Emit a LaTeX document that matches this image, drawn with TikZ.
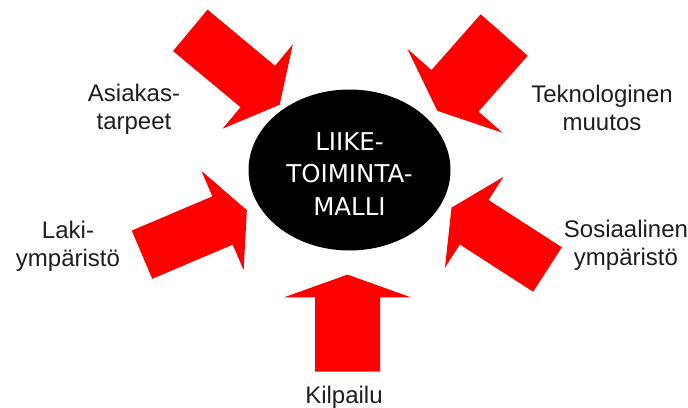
\documentclass[tikz,border=0pt]{standalone}
\usepackage{fontspec}
\setmainfont{Liberation Sans}
\newfontfamily\ellfont{DejaVu Sans}
\usetikzlibrary{shapes.geometric}
\definecolor{arrowred}{RGB}{255,0,0}
\definecolor{labelgray}{RGB}{30,30,30}
\tikzset{
  pics/blockarr/.style n args={4}{code={
    \fill[arrowred] (0,-#2/2) -- (#1,-#2/2) -- (#1,-#3/2) -- (#1+#4,0)
      -- (#1,#3/2) -- (#1,#2/2) -- (0,#2/2) -- cycle;}},
  label text/.style={align=center, text=labelgray, inner sep=0pt,
    font=\fontsize{24}{28}\selectfont},
  core/.style={ellipse, fill=black, minimum width=202pt, minimum height=161pt, inner sep=0pt},
  core text/.style={align=center, text=white, inner sep=0pt,
    font=\ellfont\fontsize{24.5}{32.5}\selectfont}
}
\begin{document}
\begin{tikzpicture}[x=1pt,y=-1pt]
\useasboundingbox[fill=white] (0,0) rectangle (688,407);
% arrows
\pic[rotate=-39.8] at (190.3,30.3) {blockarr={87.8}{53.9}{109.7}{28.5}};
\pic[rotate=-131.4] at (504.2,35) {blockarr={74.4}{62.7}{127}{26.7}};
\pic[rotate=23] at (142,254.7) {blockarr={87.5}{52.4}{108}{26.4}};
\pic[rotate=147.2] at (547.5,269.5) {blockarr={87.2}{52.9}{108}{27}};
\pic[rotate=90] at (347.5,371.7) {blockarr={74.4}{65}{126.7}{22.7}};
% centre
\node[core] (bm) at (349.5,170) {};
\node[core text] (bmtext) at (349.5,174) {LIIKE-\\TOIMINTA-\\MALLI};
% labels
\node[label text] (asiakas) at (134,109) {Asiakas-\\tarpeet};
\node[label text] (tekno) at (602,108) {Teknologinen\\muutos};
\node[label text] (laki) at (68,246.5) {Laki-\\ympäristö};
\node[label text] (sosiaali) at (626,245) {Sosiaalinen\\ympäristö};
\node[label text] (kilpailu) at (344,397) {Kilpailu};
\end{tikzpicture}
\end{document}
